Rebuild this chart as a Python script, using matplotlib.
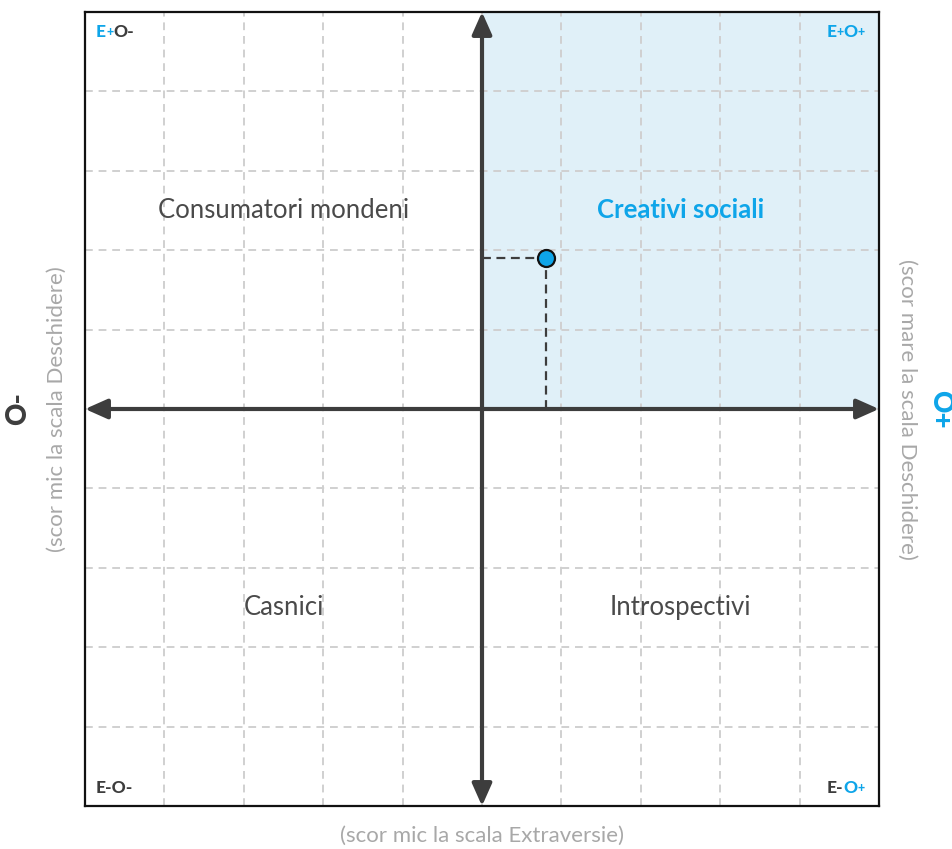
import matplotlib.pyplot as plt

# chart values
scale_min, scale_max = -5, 5
quadrants = ['Consumatori mondeni', 'Creativi sociali', 'Casnici', 'Introspectivi']
quadrant_signs = [(-1, 1), (1, 1), (-1, -1), (1, -1)]
highlight = 'Creativi sociali'
score_e = 0.8   # Extraversie
score_o = 1.9   # Deschidere

BLUE = '#0ea5e9'
DARK = '#3d3d3d'
GREY = '#a8a8a8'
FONT = ['Lato', 'DejaVu Sans']

plt.rcParams['font.family'] = FONT

fig = plt.figure(figsize=(9.52, 8.49), dpi=100)
ax = fig.add_axes([85 / 952, 43 / 849, 794 / 952, 794 / 849])
ax.set_xlim(scale_min, scale_max)
ax.set_ylim(scale_min, scale_max)

# highlighted quadrant
ax.axvspan(0, scale_max, ymin=0.5, ymax=1, color='#e0f0f8', zorder=0)

# grid
for v in range(scale_min + 1, scale_max):
    ax.axvline(v, color='#d0d0d0', lw=1.4, ls=(0, (4, 3)), zorder=1)
    ax.axhline(v, color='#d0d0d0', lw=1.4, ls=(0, (4, 3)), zorder=1)

ax.set_xticks([])
ax.set_yticks([])
for s in ax.spines.values():
    s.set_linewidth(1.6)
    s.set_color('#111111')

# main axes with arrows
arrow_style = '<|-|>,head_length=0.9,head_width=0.4'
ax.annotate('', xy=(scale_max, 0), xytext=(scale_min, 0),
            arrowprops=dict(arrowstyle=arrow_style, color=DARK, lw=3,
                            shrinkA=0, shrinkB=0, mutation_scale=15),
            zorder=3, annotation_clip=False)
ax.annotate('', xy=(0, scale_max), xytext=(0, scale_min),
            arrowprops=dict(arrowstyle=arrow_style, color=DARK, lw=3,
                            shrinkA=0, shrinkB=0, mutation_scale=15),
            zorder=3, annotation_clip=False)

# dashed guides to the point
ax.plot([0, score_e], [score_o, score_o], color=DARK, lw=1.6, ls=(0, (4, 2.5)), zorder=4)
ax.plot([score_e, score_e], [0, score_o], color=DARK, lw=1.6, ls=(0, (4, 2.5)), zorder=4)
ax.scatter([score_e], [score_o], s=150, color=BLUE, edgecolor='#111111', lw=1.6, zorder=5)

# quadrant names
for name, (sx, sy) in zip(quadrants, quadrant_signs):
    cx = sx * (scale_max / 2)
    cy = sy * (scale_max / 2)
    if name == highlight:
        ax.text(cx, cy, name, ha='center', va='center', fontsize=18.5,
                color=BLUE, fontweight='bold')
    else:
        ax.text(cx, cy, name, ha='center', va='center', fontsize=18.5,
                color='#4a4a4a', fontweight='normal')


# corner labels made of coloured pieces
def corner(x, y, parts, ha):
    if ha == 'right':
        parts = parts[::-1]
    prev = None
    for txt, col, size in parts:
        if prev is None:
            prev = ax.text(x, y, txt, transform=ax.transAxes, ha=ha, va='center',
                           color=col, fontsize=size, fontweight='black')
        else:
            if ha == 'left':
                prev = ax.annotate(txt, xy=(1, 0.5), xycoords=prev, ha='left', va='center',
                                   color=col, fontsize=size, fontweight='black')
            else:
                prev = ax.annotate(txt, xy=(0, 0.5), xycoords=prev, ha='right', va='center',
                                   color=col, fontsize=size, fontweight='black')


corner(0.014, 0.975, [('E', BLUE, 12.5), ('+', BLUE, 9), ('O-', DARK, 12.5)], 'left')
corner(0.982, 0.975, [('E', BLUE, 12.5), ('+', BLUE, 9), ('O', BLUE, 12.5), ('+', BLUE, 9)], 'right')
corner(0.014, 0.023, [('E-O-', DARK, 12.5)], 'left')
corner(0.982, 0.023, [('E-', DARK, 12.5), ('O', BLUE, 12.5), ('+', BLUE, 9)], 'right')

# outer labels
fig.text(18 / 952, 1 - 409 / 849, 'O-', rotation=90, ha='center', va='center',
         fontsize=20, fontweight='black', color=DARK)
fig.text(57 / 952, 1 - 409 / 849, '(scor mic la scala Deschidere)', rotation=90,
         ha='center', va='center', fontsize=16, fontweight='normal', color=GREY)
fig.text(940 / 952, 1 - 409 / 849, 'O+', rotation=270, ha='center', va='center',
         fontsize=20, fontweight='black', color=BLUE)
fig.text(907 / 952, 1 - 409 / 849, '(scor mare la scala Deschidere)', rotation=270,
         ha='center', va='center', fontsize=16, fontweight='normal', color=GREY)
fig.text(482 / 952, 1 - 836 / 849, '(scor mic la scala Extraversie)',
         ha='center', va='center', fontsize=16, fontweight='normal', color=GREY)

fig.savefig('out.png', dpi=100)
